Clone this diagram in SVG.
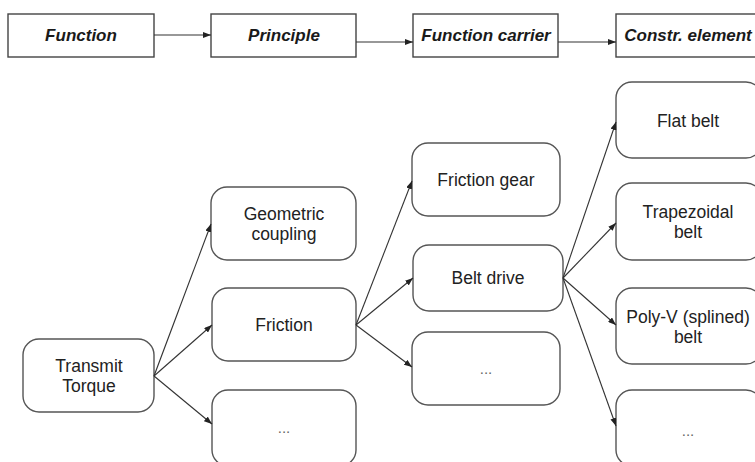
<svg xmlns="http://www.w3.org/2000/svg" width="755" height="462" viewBox="0 0 755 462">
  <style>
    .hdr { fill: #ffffff; stroke: #444444; stroke-width: 1.4; }
    .hdrtxt { font-family: "Liberation Sans", Arial, sans-serif; font-size: 17px; font-weight: bold; font-style: italic; fill: #1a1a1a; text-anchor: middle; }
    .node { fill: #ffffff; stroke: #555555; stroke-width: 1.4; }
    .txt { font-family: "Liberation Sans", Arial, sans-serif; font-size: 17.5px; fill: #222222; text-anchor: middle; }
    .dots { font-family: "Liberation Sans", Arial, sans-serif; font-size: 15px; fill: #666666; text-anchor: middle; }
    .edge { fill: none; stroke: #333333; stroke-width: 1.1; marker-end: url(#arrow); }
  </style>
  <defs>
    <marker id="arrow" viewBox="0 0 8 6" refX="8" refY="3" markerWidth="8" markerHeight="6" markerUnits="userSpaceOnUse" orient="auto">
      <path d="M0,0 L8,3 L0,6 Z" fill="#222222"/>
    </marker>
  </defs>
  <rect width="755" height="462" fill="#ffffff"/>

  <!-- header row -->
  <g id="hdr-function">
    <rect class="hdr" x="8" y="14" width="146" height="43"/>
    <text class="hdrtxt" x="81" y="41">Function</text>
  </g>
  <g id="hdr-principle">
    <rect class="hdr" x="211" y="14" width="145" height="43"/>
    <text class="hdrtxt" x="284" y="41">Principle</text>
  </g>
  <g id="hdr-carrier">
    <rect class="hdr" x="413" y="14" width="145" height="43"/>
    <text class="hdrtxt" x="486" y="41">Function carrier</text>
  </g>
  <g id="hdr-element">
    <rect class="hdr" x="616" y="14" width="146" height="43"/>
    <text class="hdrtxt" x="688" y="41">Constr. element</text>
  </g>

  <!-- tree nodes -->
  <g id="transmit-torque">
    <rect class="node" x="23" y="339" width="131" height="73" rx="16"/>
    <text class="txt" x="89" y="372">Transmit</text>
    <text class="txt" x="89" y="392">Torque</text>
  </g>
  <g id="geometric-coupling">
    <rect class="node" x="211" y="187" width="145" height="73" rx="16"/>
    <text class="txt" x="284" y="220">Geometric</text>
    <text class="txt" x="284" y="240">coupling</text>
  </g>
  <g id="friction">
    <rect class="node" x="212" y="288" width="144" height="73" rx="16"/>
    <text class="txt" x="284" y="331">Friction</text>
  </g>
  <g id="principle-more">
    <rect class="node" x="212" y="390" width="144" height="76" rx="16"/>
    <text class="dots" x="284" y="433">...</text>
  </g>
  <g id="friction-gear">
    <rect class="node" x="412" y="143" width="148" height="73" rx="16"/>
    <text class="txt" x="486" y="186">Friction gear</text>
  </g>
  <g id="belt-drive">
    <rect class="node" x="413" y="245" width="150" height="66" rx="16"/>
    <text class="txt" x="488" y="284">Belt drive</text>
  </g>
  <g id="carrier-more">
    <rect class="node" x="412" y="332" width="148" height="73" rx="16"/>
    <text class="dots" x="486" y="374">...</text>
  </g>
  <g id="flat-belt">
    <rect class="node" x="616" y="82" width="146" height="76" rx="16"/>
    <text class="txt" x="688" y="127">Flat belt</text>
  </g>
  <g id="trapezoidal-belt">
    <rect class="node" x="616" y="183" width="146" height="77" rx="16"/>
    <text class="txt" x="688" y="218">Trapezoidal</text>
    <text class="txt" x="688" y="238">belt</text>
  </g>
  <g id="polyv-belt">
    <rect class="node" x="616" y="288" width="146" height="76" rx="16"/>
    <text class="txt" x="688" y="323">Poly-V (splined)</text>
    <text class="txt" x="688" y="343">belt</text>
  </g>
  <g id="element-more">
    <rect class="node" x="616" y="390" width="146" height="76" rx="16"/>
    <text class="dots" x="688" y="436">...</text>
  </g>

  <!-- connectors -->
  <g id="connectors">
    <line class="edge" x1="154" y1="35" x2="211" y2="35"/>
    <polyline class="edge" points="356,42 413,42"/>
    <line class="edge" x1="558" y1="42" x2="616" y2="42"/>

    <line class="edge" x1="154" y1="376" x2="211" y2="224"/>
    <line class="edge" x1="154" y1="376" x2="212" y2="325"/>
    <line class="edge" x1="154" y1="376" x2="212" y2="424"/>

    <line class="edge" x1="356" y1="325" x2="412" y2="181"/>
    <line class="edge" x1="356" y1="325" x2="413" y2="278"/>
    <line class="edge" x1="356" y1="325" x2="412" y2="367"/>

    <line class="edge" x1="563" y1="278" x2="616" y2="122"/>
    <line class="edge" x1="563" y1="278" x2="616" y2="223"/>
    <line class="edge" x1="563" y1="278" x2="616" y2="325"/>
    <line class="edge" x1="563" y1="278" x2="616" y2="426"/>
  </g>
</svg>
